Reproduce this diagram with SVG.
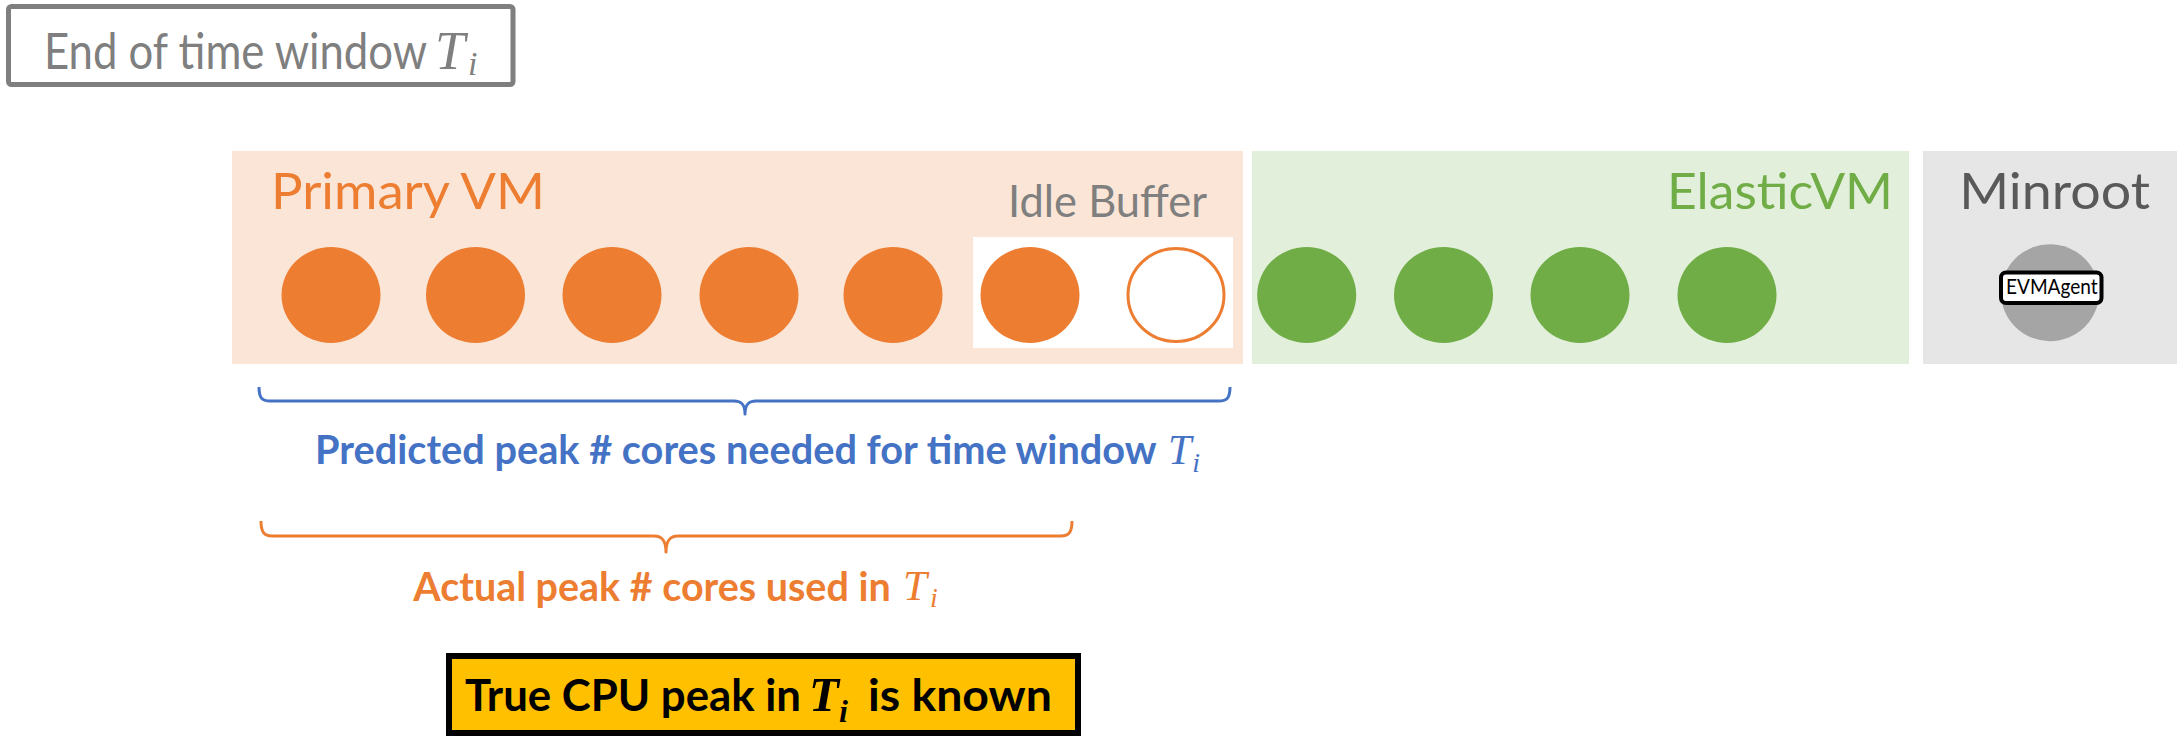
<svg xmlns="http://www.w3.org/2000/svg" width="2177" height="736" viewBox="0 0 2177 736">
<style>
.t{font-family:Lato,"Open Sans","Liberation Sans",sans-serif}
.b{font-family:Lato,"Open Sans","Liberation Sans",sans-serif;font-weight:bold}
.m{font-family:"Liberation Serif","DejaVu Serif",serif;font-style:italic}
.core{fill:#ed7d31}
.ecore{fill:#70ad47}
.brace{fill:none;stroke-width:3;stroke-linejoin:round}
</style>
<rect width="2177" height="736" fill="#ffffff"/>

<g id="end-window">
<rect x="8.5" y="6.5" width="504.5" height="78" rx="3" fill="#ffffff" stroke="#7f7f7f" stroke-width="5"/>
<text class="t" x="44" y="69" font-size="51" fill="#7f7f7f" textLength="383" lengthAdjust="spacingAndGlyphs">End of time window</text>
<text class="m" x="435" y="69" font-size="54" fill="#7f7f7f">T<tspan font-size="34" dx="3" dy="6">i</tspan></text>
</g>

<g id="primary-vm">
<rect x="232" y="151" width="1011" height="213" fill="#fbe5d6"/>
<text class="t" x="271" y="209" font-size="51" fill="#ed7d31" textLength="274" lengthAdjust="spacingAndGlyphs">Primary VM</text>
<ellipse class="core" cx="331" cy="295" rx="49.5" ry="48"/>
<ellipse class="core" cx="475.5" cy="295" rx="49.5" ry="48"/>
<ellipse class="core" cx="612" cy="295" rx="49.5" ry="48"/>
<ellipse class="core" cx="749" cy="295" rx="49.5" ry="48"/>
<ellipse class="core" cx="893" cy="295" rx="49.5" ry="48"/>
</g>

<g id="idle-buffer">
<text class="t" x="1008" y="217" font-size="43.5" fill="#7f7f7f" textLength="199" lengthAdjust="spacingAndGlyphs">Idle Buffer</text>
<rect x="973" y="237" width="260" height="111" fill="#ffffff"/>
<ellipse class="core" cx="1030" cy="295" rx="49.5" ry="48"/>
<ellipse cx="1176" cy="295" rx="48" ry="46.5" fill="#ffffff" stroke="#ed7d31" stroke-width="3"/>
</g>

<g id="elastic-vm">
<rect x="1252" y="151" width="657" height="213" fill="#e2efda"/>
<text class="t" x="1667" y="209" font-size="51" fill="#70ad47" textLength="226" lengthAdjust="spacingAndGlyphs">ElasticVM</text>
<ellipse class="ecore" cx="1306.7" cy="295" rx="49.5" ry="48"/>
<ellipse class="ecore" cx="1443.5" cy="295" rx="49.5" ry="48"/>
<ellipse class="ecore" cx="1580" cy="295" rx="49.5" ry="48"/>
<ellipse class="ecore" cx="1727" cy="295" rx="49.5" ry="48"/>
</g>

<g id="minroot">
<rect x="1923" y="151" width="254" height="213" fill="#e7e6e6"/>
<text class="t" x="1959.3" y="209" font-size="51" fill="#595959" textLength="190.7" lengthAdjust="spacingAndGlyphs">Minroot</text>
<ellipse cx="2050" cy="292.7" rx="49" ry="48.5" fill="#a5a5a5"/>
</g>

<g id="evm-agent">
<rect x="2001" y="272.5" width="100.5" height="30.5" rx="5" fill="#ffffff" stroke="#000000" stroke-width="4"/>
<text class="t" x="2006" y="294" font-size="20.5" fill="#000000" textLength="91.7" lengthAdjust="spacingAndGlyphs">EVMAgent</text>
</g>

<g id="connectors">
<path class="brace" stroke="#4472c4" d="M259,387 C259,398 262,401 270,401 L734,401 C741,401 745,404 745,414 C745,404 749,401 756,401 L1219,401 C1227,401 1230,398 1230,387"/>
<path class="brace" stroke="#ed7d31" d="M261,521 C261,532 264,536 272,536 L654,536 C661,536 666,539 666,552 C666,539 671,536 678,536 L1061,536 C1069,536 1072,532 1072,521"/>
</g>

<g id="predicted-label">
<text class="b" x="315" y="464" font-size="40" fill="#4472c4" textLength="841.7" lengthAdjust="spacingAndGlyphs">Predicted peak # cores needed for time window</text>
<text class="m" x="1168" y="464" font-size="42" fill="#4472c4">T<tspan font-size="28" dx="1" dy="8">i</tspan></text>
</g>

<g id="actual-label">
<text class="b" x="413.3" y="601" font-size="41" fill="#ed7d31" textLength="477.4" lengthAdjust="spacingAndGlyphs">Actual peak # cores used in</text>
<text class="m" x="903" y="600" font-size="43" fill="#ed7d31">T<tspan font-size="28" dx="3" dy="7">i</tspan></text>
</g>

<g id="true-peak">
<rect x="449" y="656" width="629" height="77" fill="#ffc000" stroke="#000000" stroke-width="6"/>
<text class="b" x="465" y="711" font-size="44" fill="#000000" textLength="336" lengthAdjust="spacingAndGlyphs">True CPU peak in</text>
<text class="m" x="809" y="711" font-size="49" font-weight="bold" fill="#000000">T<tspan font-size="32" dy="11">i</tspan></text>
<text class="b" x="868" y="711" font-size="44" fill="#000000" textLength="184" lengthAdjust="spacingAndGlyphs">is known</text>
</g>
</svg>
